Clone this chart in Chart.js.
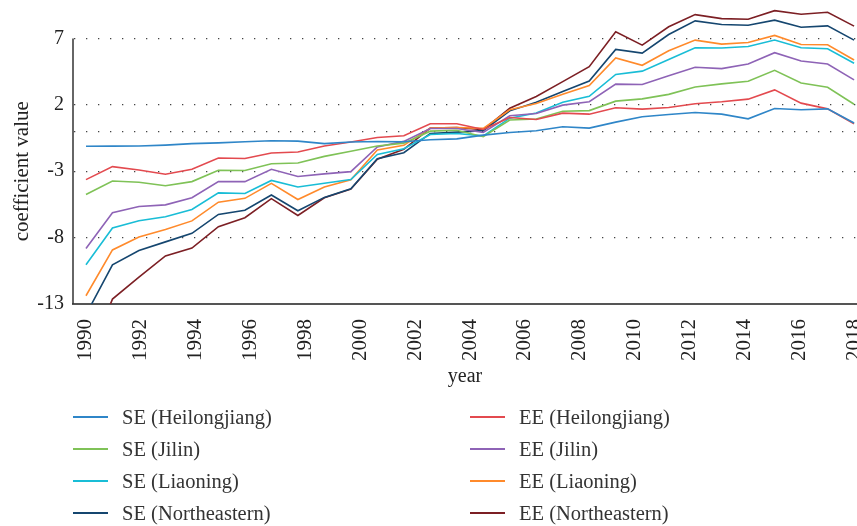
<!DOCTYPE html>
<html>
<head>
<meta charset="utf-8">
<title>coefficient value</title>
<script src="https://cdn.jsdelivr.net/npm/chart.js@4.4.1/dist/chart.umd.min.js"></script>
<style>
  html, body { margin: 0; padding: 0; background: #fff; }
  #wrap { position: relative; width: 857px; height: 526px; }
  #legend { position: absolute; left: 0; top: 0; width: 857px; height: 526px; pointer-events: none;
            font-family: "Liberation Serif", "DejaVu Serif", serif; font-size: 20.5px; color: #333; }
  .item { position: absolute; height: 24px; display: flex; align-items: center; white-space: nowrap; }
  .swatch { display: inline-block; width: 35px; height: 2px; margin-right: 14px; }
</style>
</head>
<body>
<div id="wrap">
  <canvas id="chart" width="857" height="526"></canvas>
  <div id="legend"></div>
</div>
<script>
// 30 data points, the tick labels are spread evenly over them (as in the figure)
const years = [1990, 1991, 1992, 1993, 1994, 1995, 1996, 1997, 1998, 1999,
               2000, 2001, 2002, 2003, 2004, 2005, 2006, 2007, 2008, 2009,
               2010, 2011, 2012, 2013, 2014, 2015, 2016, 2017, 2018, 2019];
const tickLabels = ['1990', '1992', '1994', '1996', '1998', '2000', '2002', '2004',
                    '2006', '2008', '2010', '2012', '2014', '2016', '2018'];
const yTicks = [-13, -8, -3, 0, 2, 7];

const seHeilongjiang = [-1.12, -1.11, -1.1, -1.03, -0.92, -0.86, -0.78, -0.7, -0.73, -0.92,
                        -0.8, -0.76, -0.78, -0.63, -0.56, -0.28, -0.08, 0.05, 0.35, 0.25,
                        0.7, 1.1, 1.27, 1.43, 1.3, 0.95, 1.73, 1.63, 1.7, 0.63];
const eeHeilongjiang = [-3.63, -2.65, -2.9, -3.22, -2.85, -2.0, -2.04, -1.63, -1.55, -1.1,
                        -0.8, -0.46, -0.33, 0.58, 0.58, 0.15, 1.05, 0.9, 1.38, 1.3,
                        1.78, 1.68, 1.8, 2.08, 2.23, 2.43, 3.13, 2.13, 1.7, 0.58];
const seJilin = [-4.75, -3.73, -3.83, -4.09, -3.78, -2.93, -2.94, -2.44, -2.38, -1.88,
                 -1.5, -1.1, -0.88, 0.02, 0.09, -0.4, 0.86, 0.93, 1.52, 1.57,
                 2.28, 2.45, 2.79, 3.35, 3.58, 3.78, 4.6, 3.65, 3.33, 2.05];
const eeJilin = [-8.82, -6.13, -5.65, -5.53, -5.0, -3.77, -3.78, -2.85, -3.39, -3.2,
                 -3.03, -1.17, -0.75, 0.22, 0.22, -0.08, 1.18, 1.35, 1.98, 2.24,
                 3.56, 3.53, 4.19, 4.83, 4.73, 5.08, 5.93, 5.3, 5.08, 3.88];
const seLiaoning = [-10.05, -7.27, -6.73, -6.43, -5.88, -4.63, -4.68, -3.69, -4.19, -3.9,
                    -3.63, -1.73, -1.3, -0.23, -0.16, -0.33, 1.0, 1.38, 2.2, 2.65,
                    4.29, 4.54, 5.42, 6.3, 6.28, 6.4, 6.88, 6.3, 6.23, 5.13];
const eeLiaoning = [-12.38, -8.93, -7.96, -7.38, -6.74, -5.33, -5.04, -3.91, -5.13, -4.18,
                    -3.64, -1.4, -1.05, 0.25, 0.3, 0.23, 1.63, 2.1, 2.8, 3.45,
                    5.53, 4.98, 6.08, 6.88, 6.58, 6.7, 7.23, 6.55, 6.53, 5.38];
const seNortheastern = [-13.8, -10.05, -8.97, -8.32, -7.68, -6.25, -5.94, -4.79, -5.98, -4.97,
                        -4.32, -2.06, -1.6, -0.15, -0.05, 0.06, 1.55, 2.2, 3.0, 3.8,
                        6.18, 5.9, 7.3, 8.33, 8.05, 8.0, 8.38, 7.85, 7.95, 6.88];
const eeNortheastern = [-17.5, -12.63, -10.98, -9.38, -8.79, -7.18, -6.5, -5.06, -6.33, -5.0,
                        -4.35, -2.1, -1.35, 0.25, 0.3, 0.13, 1.75, 2.63, 3.75, 4.88,
                        7.5, 6.5, 7.88, 8.8, 8.5, 8.45, 9.1, 8.83, 8.98, 7.93];

const seriesNames = ['SE (Heilongjiang)', 'EE (Heilongjiang)', 'SE (Jilin)', 'EE (Jilin)',
                     'SE (Liaoning)', 'EE (Liaoning)', 'SE (Northeastern)', 'EE (Northeastern)'];
const seriesData = [seHeilongjiang, eeHeilongjiang, seJilin, eeJilin,
                    seLiaoning, eeLiaoning, seNortheastern, eeNortheastern];
const seriesColors = ['#2f86c8', '#e34a4f', '#7fc257', '#8e63b6',
                      '#19bdd6', '#ff8a2b', '#15466f', '#7c1f24'];

const fontFamily = '"Liberation Serif", "DejaVu Serif", serif';
const font = { family: fontFamily, size: 20 };

// y axis line only runs from 7 down to -13, title centred on that stretch
const leftAxis = {
    id: 'leftAxis',
    afterDraw(chart) {
        const { ctx, scales: { x, y } } = chart;
        const top = y.getPixelForValue(7);
        const bottom = y.getPixelForValue(-13);
        ctx.save();
        ctx.strokeStyle = '#333';
        ctx.lineWidth = 1.5;
        ctx.beginPath();
        ctx.moveTo(x.left, top);
        ctx.lineTo(x.left, bottom);
        ctx.stroke();

        ctx.translate(22, (top + bottom) / 2);
        ctx.rotate(-Math.PI / 2);
        ctx.fillStyle = '#222';
        ctx.font = '21px ' + fontFamily;
        ctx.textAlign = 'center';
        ctx.textBaseline = 'middle';
        ctx.fillText('coefficient value', 0, 0);
        ctx.restore();
    }
};

const chart = new Chart(document.getElementById('chart'), {
    type: 'line',
    data: {
        datasets: seriesNames.map((name, i) => ({
            label: name,
            data: years.map((yr, j) => ({ x: yr, y: seriesData[i][j] })),
            borderColor: seriesColors[i],
            backgroundColor: seriesColors[i],
            borderWidth: 1.6,
            pointRadius: 0,
            tension: 0
        }))
    },
    options: {
        responsive: false,
        animation: false,
        layout: { padding: { left: 0, right: 0, top: 0, bottom: 136 } },
        plugins: { legend: { display: false }, tooltip: { enabled: false } },
        scales: {
            x: {
                type: 'linear',
                min: 1989.51,
                max: 2019.11,
                afterBuildTicks: scale => {
                    scale.ticks = tickLabels.map((t, k) => ({ value: 1990 + k * 29 / 14 }));
                },
                afterFit: scale => {
                    scale.height = 86;
                    scale.paddingLeft = 0;
                    scale.paddingRight = 0;
                },
                ticks: {
                    autoSkip: false,
                    minRotation: 90,
                    maxRotation: 90,
                    padding: 7,
                    color: '#222',
                    font: { family: fontFamily, size: 21 },
                    callback: (val, idx) => tickLabels[idx]
                },
                grid: { display: false },
                border: { display: true, color: '#555', width: 2 },
                title: { display: true, text: 'year', color: '#222', font: font, padding: { top: 2, bottom: 1 } }
            },
            y: {
                min: -13,
                max: 9.9,
                afterBuildTicks: scale => {
                    scale.ticks = yTicks.map(v => ({ value: v }));
                },
                afterFit: scale => {
                    scale.width = 73;
                    scale.paddingTop = 0;
                    scale.paddingBottom = 0;
                },
                ticks: {
                    padding: 9,
                    color: '#222',
                    font: font,
                    callback: v => (v === 0 ? '' : v)
                },
                grid: {
                    drawTicks: false,
                    color: ctx => (ctx.tick && ctx.tick.value === -13 ? 'rgba(0,0,0,0)' : '#444'),
                    lineWidth: 1.3
                },
                border: { display: false, dash: [1.3, 10.7], dashOffset: 11 }
            }
        }
    },
    plugins: [leftAxis]
});

// legend: SE series in the left column, EE series in the right one
const legend = document.getElementById('legend');
chart.data.datasets.forEach((ds, i) => {
    const col = i % 2;
    const row = Math.floor(i / 2);
    const item = document.createElement('div');
    item.className = 'item';
    item.style.left = (col === 0 ? 73 : 470) + 'px';
    item.style.top = (405 + row * 32) + 'px';
    const swatch = document.createElement('span');
    swatch.className = 'swatch';
    swatch.style.background = ds.borderColor;
    item.appendChild(swatch);
    item.appendChild(document.createTextNode(ds.label));
    legend.appendChild(item);
});
</script>
</body>
</html>
